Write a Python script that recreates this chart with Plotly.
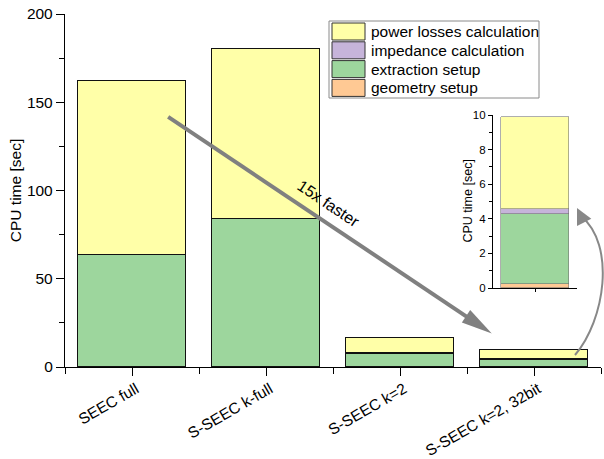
import math
import plotly.graph_objects as go

# ---- data -------------------------------------------------------------
categories = ["SEEC full", "S-SEEC k-full", "S-SEEC k=2", "S-SEEC k=2, 32bit"]
series_names = ["geometry setup", "extraction setup", "impedance calculation", "power losses calculation"]
geometry_setup = [0, 0, 0, 0.25]
extraction_setup = [63.5, 83.8, 7.6, 4.0]
impedance_calc = [0, 0, 0.3, 0.3]
power_losses = [98.7, 96.2, 8.5, 5.35]
series_values = [geometry_setup, extraction_setup, impedance_calc, power_losses]
colors = ["#FFC994", "#9DD69D", "#C6B4DA", "#FFFFA8"]

y_ticks_main = [0, 50, 100, 150, 200]
y_ticks_inset = [0, 2, 4, 6, 8, 10]

FONT = "Arial, Liberation Sans, sans-serif"

# ---- page geometry ----------------------------------------------------
W, H = 604, 459
ML, MR, MT, MB = 65, 3, 14, 92
PW, PH = W - ML - MR, H - MT - MB
X_RANGE = [-0.5, 3.5]
Y_RANGE = [0, 200]


def px(x):
    return (x - ML) / PW


def py(y):
    return (H - MB - y) / PH


def data_to_pixel(x, y):
    X = ML + (x - X_RANGE[0]) / (X_RANGE[1] - X_RANGE[0]) * PW
    Y = MT + (Y_RANGE[1] - y) / (Y_RANGE[1] - Y_RANGE[0]) * PH
    return X, Y


def pt(X, Y):
    return f"{px(X):.5f},{py(Y):.5f}"


fig = go.Figure()

# main stacked bars
xs = list(range(len(categories)))
for name, vals, col in zip(series_names, series_values, colors):
    fig.add_trace(go.Bar(
        x=xs, y=vals, name=name, width=0.8,
        marker=dict(color=col, line=dict(color="#111111", width=1.3)),
        showlegend=False, xaxis="x", yaxis="y",
    ))

# inset: last configuration in detail
last = len(categories) - 1
for name, vals, col in zip(series_names, series_values, colors):
    fig.add_trace(go.Bar(
        x=[0], y=[vals[last]], name=name, width=0.8,
        marker=dict(color=col, line=dict(color="rgba(110,110,110,0.7)", width=0.8)),
        showlegend=False, xaxis="x2", yaxis="y2",
    ))

axis_common = dict(showgrid=False, zeroline=False, showline=True, linecolor="black",
                   linewidth=1.3, ticks="outside", tickcolor="black", tickwidth=1.3,
                   automargin=False)

inset_x = [493, 577]
inset_y = [115, 288]

fig.update_layout(
    width=W, height=H,
    margin=dict(l=ML, r=MR, t=MT, b=MB, autoexpand=False),
    paper_bgcolor="white", plot_bgcolor="white",
    barmode="stack", bargap=0,
    font=dict(family=FONT, size=15.5, color="black"),
    xaxis=dict(
        **axis_common, range=X_RANGE, tickmode="array", tickvals=xs,
        ticktext=categories, tickangle=-30, ticklen=8,
        ticklabelshift=4, ticklabelstandoff=-2,
        tickfont=dict(size=15.5),
        minor=dict(tickmode="linear", tick0=0.5, dtick=1, ticks="outside",
                   ticklen=6, tickcolor="black", tickwidth=1.3),
    ),
    yaxis=dict(
        **axis_common, range=Y_RANGE, tickmode="array", tickvals=y_ticks_main,
        ticklen=8, tickfont=dict(size=15.5),
        title=dict(text="CPU time [sec]", font=dict(size=15.5), standoff=1),
        minor=dict(tickmode="linear", tick0=0, dtick=25, ticks="outside",
                   ticklen=5, tickcolor="black", tickwidth=1.3),
    ),
    xaxis2=dict(
        **{**axis_common, "linewidth": 1.2}, domain=[px(inset_x[0]), px(inset_x[1])],
        anchor="y2", range=[-0.5, 0.5], tickmode="array", tickvals=[0], ticktext=[""],
        ticklen=3,
    ),
    yaxis2=dict(
        **{**axis_common, "linewidth": 1.2}, domain=[py(inset_y[1]), py(inset_y[0])],
        anchor="x2", range=[0, 10], tickmode="array", tickvals=y_ticks_inset, ticklen=4,
        tickfont=dict(size=11.5),
        minor=dict(tickmode="linear", tick0=0, dtick=1, ticks="outside",
                   ticklen=2.5, tickcolor="black", tickwidth=1),
    ),
)

annotations = []
# inset axis title
annotations.append(dict(xref="paper", yref="paper", x=px(467), y=py(sum(inset_y) / 2),
                        text="CPU time [sec]", textangle=-90, showarrow=False,
                        xanchor="center", yanchor="middle",
                        font=dict(size=12.5, family=FONT, color="black")))

# ---- legend box, drawn by hand for the large swatches ------------------
shapes = [dict(type="rect", xref="paper", yref="paper",
               x0=px(329), x1=px(539), y0=py(98), y1=py(21),
               line=dict(color="#8a8a8a", width=1), fillcolor="white", layer="above")]
row_top = 23
for i, (name, col) in enumerate(zip(reversed(series_names), reversed(colors))):
    y0 = row_top + i * 18.8
    y1 = y0 + 17
    shapes.append(dict(type="rect", xref="paper", yref="paper",
                       x0=px(332), x1=px(365), y0=py(y1), y1=py(y0),
                       line=dict(color="#333333", width=1), fillcolor=col, layer="above"))
    annotations.append(dict(xref="paper", yref="paper", x=px(369), y=py((y0 + y1) / 2),
                            text=name, showarrow=False, xanchor="left", yanchor="middle",
                            font=dict(size=15.5, family=FONT, color="black")))

# ---- speed-up arrow (shaft + long narrow head) and label ----------------
arrow_start = (0.27, 141.7)
arrow_tip = (2.685, 19.0)
head_len, head_half = 31, 7.5
SX, SY = data_to_pixel(*arrow_start)
TX, TY = data_to_pixel(*arrow_tip)
L = math.hypot(TX - SX, TY - SY)
ux, uy = (TX - SX) / L, (TY - SY) / L
BX, BY = TX - head_len * ux, TY - head_len * uy
nx, ny = -uy, ux
shapes.append(dict(type="path", xref="paper", yref="paper",
                   path=f"M {pt(SX, SY)} L {pt(BX + 2 * ux, BY + 2 * uy)}",
                   line=dict(color="#808080", width=4), layer="above"))
shapes.append(dict(type="path", xref="paper", yref="paper",
                   path=(f"M {pt(TX, TY)} L {pt(BX + head_half * nx, BY + head_half * ny)} "
                         f"L {pt(BX - head_half * nx, BY - head_half * ny)} Z"),
                   line=dict(width=0), fillcolor="#808080", layer="above"))
angle = math.degrees(math.atan2(TY - SY, TX - SX))
annotations.append(dict(x=1.463, y=92.5, xref="x", yref="y", text="15x faster",
                        showarrow=False, textangle=angle,
                        font=dict(size=16, family=FONT, color="black")))

# ---- curved pointer from the last bar up to the inset -------------------
curve = f"M {pt(575, 355)} C {pt(605, 320)} {pt(616, 245)} {pt(581, 216)}"
shapes.append(dict(type="path", xref="paper", yref="paper", path=curve,
                   line=dict(color="#888888", width=2), layer="above"))
annotations.append(dict(xref="paper", yref="paper", x=px(577), y=py(208),
                        ax=5, ay=10, showarrow=True, text="",
                        arrowhead=2, arrowsize=1.6, arrowwidth=2, arrowcolor="#888888"))

fig.update_layout(shapes=shapes, annotations=annotations)

fig.write_html("out.html")
